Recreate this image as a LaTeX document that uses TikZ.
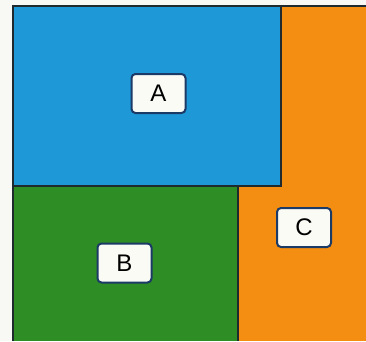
\documentclass[tikz,border=0pt]{standalone}
\usepackage{fontspec}
\setmainfont{Liberation Sans}
\usepackage{xcolor}
\usepackage{tikz}
\definecolor{paper}{HTML}{F8F8F5}
\definecolor{areaA}{HTML}{1F98D8}
\definecolor{areaB}{HTML}{2F8D25}
\definecolor{areaC}{HTML}{F38E12}
\definecolor{edge}{HTML}{1E2A2E}
\definecolor{tagline}{HTML}{1C3A66}
\definecolor{tagfill}{HTML}{FBFBF6}
\tikzset{
  area/.style={draw=edge, line width=1.2pt},
  tag/.style={
    rounded corners=4pt,
    draw=tagline,
    line width=2pt,
    fill=tagfill,
    font=\fontsize{24}{26}\selectfont,
    minimum width=54pt,
    minimum height=39pt,
    inner sep=0pt
  }
}

\begin{document}
\begin{tikzpicture}[x=1pt,y=1pt]
\useasboundingbox (0,0) rectangle (366,341);
\fill[paper] (0,0) rectangle (366,341);

% areas, top edge at y=335, left at x=13
\fill[areaC] (238,0) rectangle (366,335);
\fill[areaB] (13,0) rectangle (238,155);
\fill[areaA] (13,155) rectangle (281,335);
\draw[area] (13,0) -- (13,335) -- (366,335);
\draw[area] (13,155) -- (281,155) -- (281,335);
\draw[area] (238,0) -- (238,155);

\node[tag] (tagA) at (158.5,247.5) {A};
\node[tag] (tagB) at (124.5,78) {B};
\node[tag] (tagC) at (304,113.5) {C};

\end{tikzpicture}
\end{document}
